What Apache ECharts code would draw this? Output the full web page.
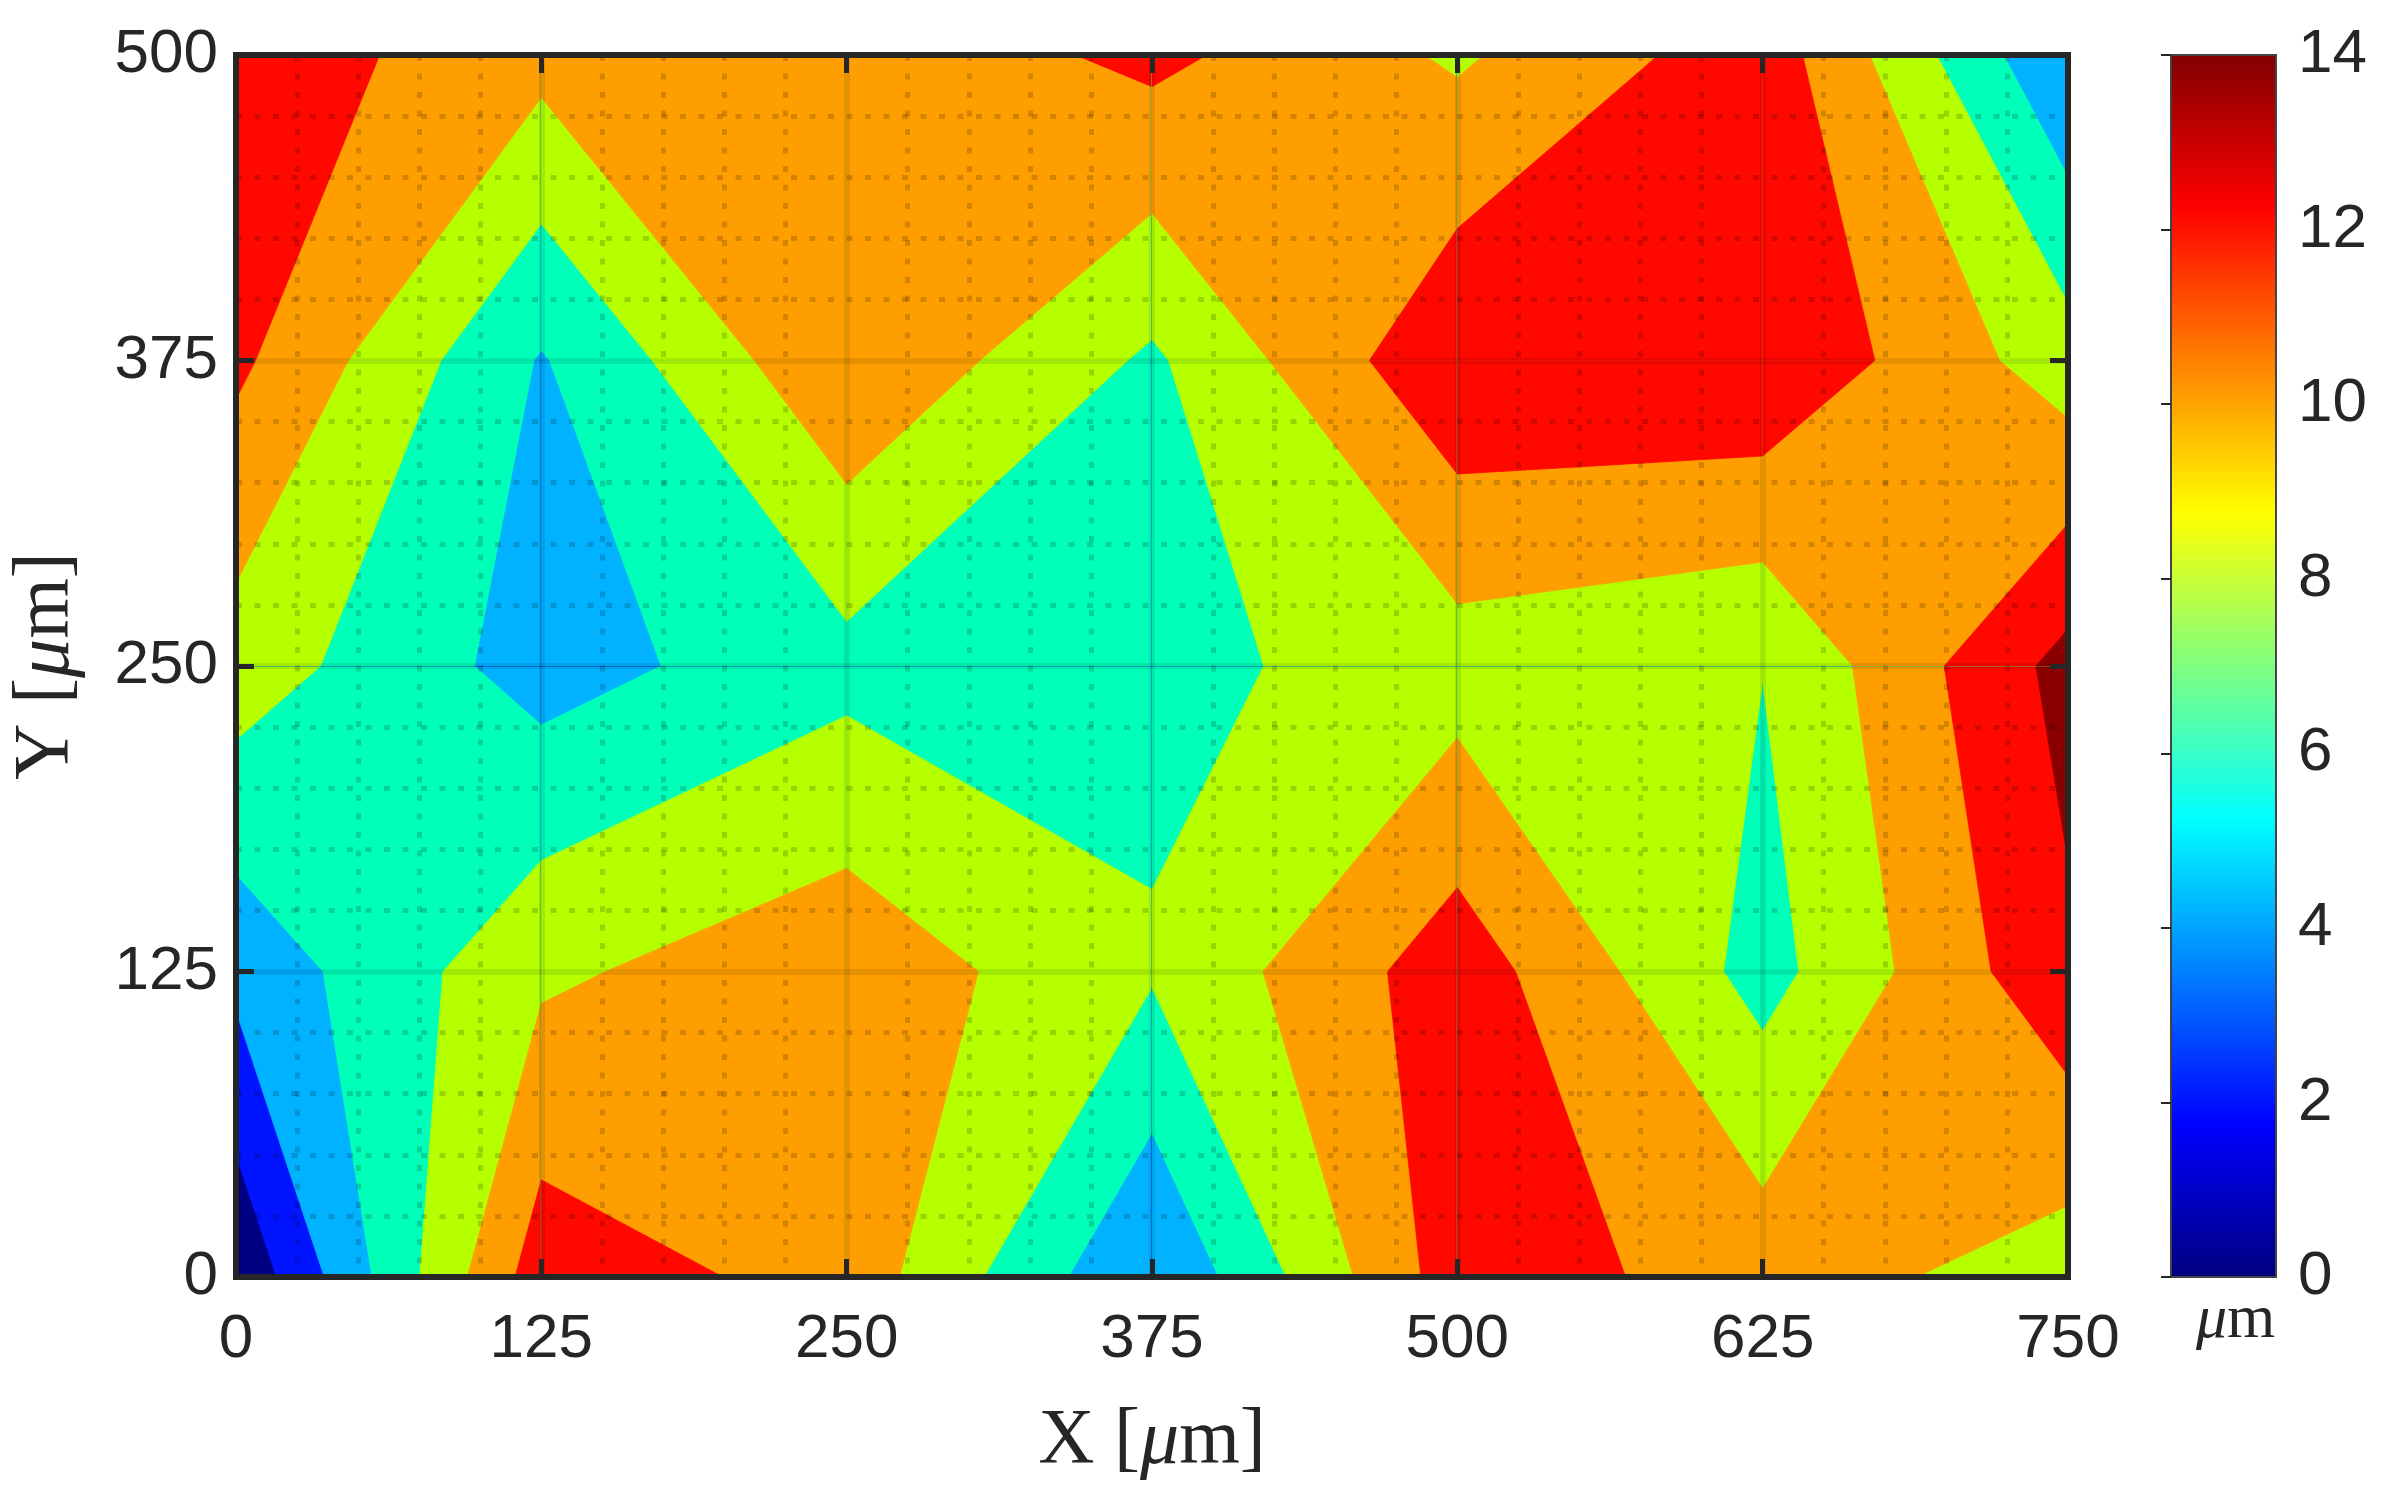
<!DOCTYPE html>
<html>
<head>
<meta charset="utf-8">
<title>Contour map</title>
<script src="https://cdn.jsdelivr.net/npm/echarts@6/dist/echarts.min.js"></script>
<style>
  html, body { margin: 0; padding: 0; background: #fff; }
  #chart { width: 2384px; height: 1497px; }
</style>
</head>
<body>
<div id="chart"></div>
<script>
// measurement positions (um)
const xPos = [0, 125, 250, 375, 500, 625, 750];
const yPos = [0, 125, 250, 375, 500];

const row0   = [0.3, 13.1, 11.25, 4.02, 13.08, 11.12, 8.9];
const row125 = [4.55, 9.64, 11.35, 8.22, 13.12, 7.25, 13.6];
const row250 = [9.1, 5.13, 7.35, 7.4, 9.04, 8.04, 14.7];
const row375 = [12.42, 5.84, 11.8, 7.67, 13.75, 13.8, 8.9];
const row500 = [13.18, 10.67, 10.5, 12.5, 9.7, 13.19, 4.08];

// contour levels and the fill of each band (below 2, 2-4, ..., above 14)
const levels = [2, 4, 6, 8, 10, 12, 14];
const bandColors = ['#000085', '#0014ff', '#00b2ff', '#00ffb8', '#b6ff00', '#ff9e00', '#ff0800', '#8a0000'];

// jet colormap for the colour bar
const jetStops = [
  [0, '#000080'], [0.125, '#0000ff'], [0.375, '#00ffff'],
  [0.625, '#ffff00'], [0.875, '#ff0000'], [1, '#800000']
];

const rows = [row0, row125, row250, row375, row500];

const cells = [];
for (let iy = 0; iy < yPos.length - 1; iy++) {
  for (let ix = 0; ix < xPos.length - 1; ix++) {
    cells.push([xPos[ix], yPos[iy], ix, iy]);
  }
}

// part of a cell where value >= level (linear on the edges, saddles by cell mean)
function superLevel(pts, vals, level, centre) {
  const up = vals.map(v => v >= level);
  const n = up.filter(Boolean).length;
  if (n === 0) return [];
  if (n === 4) return [pts];
  const cross = (i, j) => {
    const t = (level - vals[i]) / (vals[j] - vals[i]);
    return [pts[i][0] + t * (pts[j][0] - pts[i][0]), pts[i][1] + t * (pts[j][1] - pts[i][1])];
  };
  if (n === 2 && up[0] === up[2] && centre < level) {
    const out = [];
    for (let i = 0; i < 4; i++) {
      if (!up[i]) continue;
      out.push([cross((i + 3) % 4, i), pts[i], cross(i, (i + 1) % 4)]);
    }
    return out;
  }
  const poly = [];
  for (let i = 0; i < 4; i++) {
    const j = (i + 1) % 4;
    if (up[i]) poly.push(pts[i]);
    if (up[i] !== up[j]) poly.push(cross(i, j));
  }
  return [poly];
}

function renderCell(params, api) {
  const ix = api.value(2), iy = api.value(3);
  const pts = [
    [xPos[ix], yPos[iy]], [xPos[ix + 1], yPos[iy]],
    [xPos[ix + 1], yPos[iy + 1]], [xPos[ix], yPos[iy + 1]]
  ];
  const vals = [rows[iy][ix], rows[iy][ix + 1], rows[iy + 1][ix + 1], rows[iy + 1][ix]];
  const centre = (vals[0] + vals[1] + vals[2] + vals[3]) / 4;
  const children = [];
  const add = (poly, color) => children.push({
    type: 'polygon',
    shape: { points: poly.map(p => api.coord(p)) },
    style: { fill: color, stroke: color, lineWidth: 0.8, lineJoin: 'round' }
  });
  add(pts, bandColors[0]);
  levels.forEach((lv, k) => {
    superLevel(pts, vals, lv, centre).forEach(p => add(p, bandColors[k + 1]));
  });
  return { type: 'group', children: children };
}

function renderBar(params, api) {
  const p0 = api.coord([0, 0]);
  const p1 = api.coord([1, 14]);
  return {
    type: 'rect',
    shape: { x: p0[0], y: p1[1], width: p1[0] - p0[0], height: p0[1] - p1[1] },
    style: {
      fill: new echarts.graphic.LinearGradient(0, 1, 0, 0,
        jetStops.map(s => ({ offset: s[0], color: s[1] }))),
      stroke: '#444', lineWidth: 2
    }
  };
}

const ink = '#262626';
const tickFont = { fontFamily: 'Liberation Sans', fontSize: 62, color: ink };
const frame = { color: ink, width: 6, cap: 'square' };
const serif = 'Liberation Serif';
const nameStyle = {
  fontFamily: serif, fontSize: 78, color: ink,
  rich: {
    t: { fontFamily: serif, fontSize: 78, color: ink },
    mu: { fontFamily: serif, fontSize: 78, color: ink, fontStyle: 'italic' }
  }
};
const majorGrid = { show: true, lineStyle: { color: 'rgba(0,0,0,0.09)', width: 6 } };
const minorGrid = { show: true, lineStyle: { color: 'rgba(0,0,0,0.17)', width: 5, type: [6, 12.5] } };

const chart = echarts.init(document.getElementById('chart'));
chart.setOption({
  animation: false,
  backgroundColor: '#fff',
  grid: [
    { left: 236, top: 55, width: 1832, height: 1222 },
    { left: 2171, top: 55, width: 105, height: 1222 }
  ],
  xAxis: [
    {
      type: 'value', min: 0, max: 750, interval: 125, position: 'bottom', z: 5,
      name: '{t|X [}{mu|μ}{t|m]}', nameLocation: 'middle', nameGap: 126, nameTextStyle: nameStyle,
      axisLine: { show: true, onZero: false, lineStyle: frame },
      axisTick: { show: true, inside: true, length: 18, lineStyle: { color: ink, width: 5 } },
      axisLabel: Object.assign({ margin: 32 }, tickFont),
      minorTick: { show: false, splitNumber: 5 },
      splitLine: majorGrid,
      minorSplitLine: minorGrid
    },
    {
      type: 'value', min: 0, max: 750, interval: 125, position: 'top', z: 5,
      axisLine: { show: true, onZero: false, lineStyle: frame },
      axisTick: { show: true, inside: true, length: 18, lineStyle: { color: ink, width: 5 } },
      axisLabel: { show: false }, splitLine: { show: false }
    },
    { gridIndex: 1, type: 'value', min: 0, max: 1, show: false }
  ],
  yAxis: [
    {
      type: 'value', min: 0, max: 500, interval: 125, position: 'left', z: 5,
      name: '{t|Y [}{mu|μ}{t|m]}', nameLocation: 'middle', nameGap: 150, nameTextStyle: nameStyle,
      axisLine: { show: true, onZero: false, lineStyle: frame },
      axisTick: { show: true, inside: true, length: 18, lineStyle: { color: ink, width: 5 } },
      axisLabel: Object.assign({ margin: 18 }, tickFont),
      minorTick: { show: false, splitNumber: 5 },
      splitLine: majorGrid,
      minorSplitLine: minorGrid
    },
    {
      type: 'value', min: 0, max: 500, interval: 125, position: 'right', z: 5,
      axisLine: { show: true, onZero: false, lineStyle: frame },
      axisTick: { show: true, inside: true, length: 18, lineStyle: { color: ink, width: 5 } },
      axisLabel: { show: false }, splitLine: { show: false }
    },
    {
      gridIndex: 1, type: 'value', min: 0, max: 14, interval: 2, position: 'right', z: 5,
      axisLine: { show: false },
      axisTick: { show: true, inside: true, length: 10, lineStyle: { color: ink, width: 2 } },
      axisLabel: Object.assign({ margin: 22 }, tickFont),
      splitLine: { show: false }
    }
  ],
  graphic: [{
    type: 'text', left: 2196, top: 1290,
    style: {
      text: '{mu|μ}{t|m}',
      rich: {
        mu: { fontFamily: serif, fontSize: 62, fill: ink, fontStyle: 'italic' },
        t: { fontFamily: serif, fontSize: 62, fill: ink }
      }
    }
  }],
  series: [
    {
      type: 'custom', xAxisIndex: 0, yAxisIndex: 0, z: 2,
      renderItem: renderCell, data: cells, silent: true
    },
    {
      type: 'custom', xAxisIndex: 2, yAxisIndex: 2, z: 2,
      renderItem: renderBar, data: [[0, 0]], silent: true
    }
  ]
});
</script>
</body>
</html>
